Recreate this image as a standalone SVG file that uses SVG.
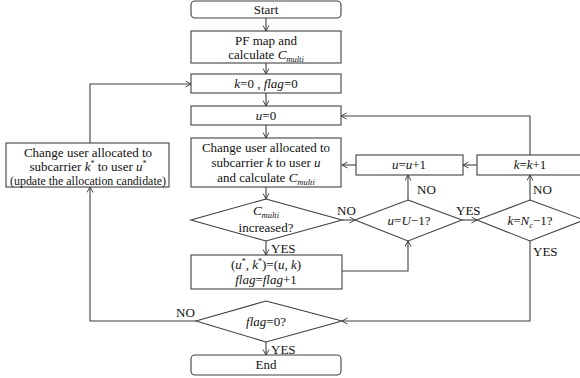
<svg xmlns="http://www.w3.org/2000/svg" width="580" height="378" viewBox="0 0 580 378" font-family="'Liberation Serif', 'Times New Roman', serif" font-size="13">
<defs>
<marker id="ah" markerWidth="8" markerHeight="8" refX="6" refY="3.5" orient="auto" markerUnits="userSpaceOnUse">
<path d="M0.5,0.5 L6,3.5 L0.5,6.5" fill="none" stroke="#333" stroke-width="0.9"/>
</marker>
<style>
.b{fill:#fff;stroke:#404040;stroke-width:1.1}
.l{fill:none;stroke:#404040;stroke-width:1.1;marker-end:url(#ah)}
text{fill:#111}
.c{text-anchor:middle}
.i{font-style:italic}
.s{font-size:8.5px;font-style:italic}
</style>
</defs>
<g id="connectors">
<path class="l" d="M266,18 V31"/>
<path class="l" d="M266,63 V74"/>
<path class="l" d="M266,93 V106"/>
<path class="l" d="M266,125 V138"/>
<path class="l" d="M266,187 V199"/>
<path class="l" d="M266,241 V255"/>
<path class="l" d="M266,342 V355"/>
<path class="l" d="M342,220 H355"/>
<path class="l" d="M462,220 H477"/>
<path class="l" d="M408,200 V175"/>
<path class="l" d="M530,200 V175"/>
<path class="l" d="M477,165 H463"/>
<path class="l" d="M356,165 H342"/>
<path class="l" d="M530,155 V116 H341"/>
<path class="l" d="M342,271 H408 V241"/>
<path class="l" d="M530,241 V321 H342"/>
<path class="l" d="M196,321 H90 V187"/>
<path class="l" d="M90,143 V84 H191"/>
</g>
<g id="start"><rect class="b" x="191" y="1" width="150" height="17" rx="4"/><text class="c" x="266" y="14">Start</text></g>
<g id="pf"><rect class="b" x="191" y="31" width="150" height="32"/><text class="c" x="266" y="45">PF map and</text><text class="c" x="266" y="59">calculate <tspan class="i">C</tspan><tspan class="s" dy="3">multi</tspan></text></g>
<g id="init"><rect class="b" x="191" y="74" width="150" height="19"/><text class="c" x="266" y="88"><tspan class="i">k</tspan>=0 , <tspan class="i">flag</tspan>=0</text></g>
<g id="u0"><rect class="b" x="191" y="106" width="150" height="19"/><text class="c" x="266" y="120"><tspan class="i">u</tspan>=0</text></g>
<g id="change"><rect class="b" x="191" y="138" width="150" height="49"/><text class="c" x="266" y="152">Change user allocated to</text><text class="c" x="266" y="167">subcarrier <tspan class="i">k</tspan> to user <tspan class="i">u</tspan></text><text class="c" x="266" y="182">and calculate <tspan class="i">C</tspan><tspan class="s" dy="3">multi</tspan></text></g>
<g id="inc"><polygon class="b" points="266,199 342,220 266,241 191,220"/><text class="c" x="266" y="215"><tspan class="i">C</tspan><tspan class="s" dy="3">multi</tspan></text><text class="c" x="266" y="232">increased?</text></g>
<g id="save"><rect class="b" x="191" y="255" width="151" height="34"/><text class="c" x="266" y="269">(<tspan class="i">u</tspan><tspan font-size="8" dy="-5">*</tspan><tspan dy="5">, </tspan><tspan class="i">k</tspan><tspan font-size="8" dy="-5">*</tspan><tspan dy="5">)=(</tspan><tspan class="i">u</tspan>, <tspan class="i">k</tspan>)</text><text class="c" x="266" y="284"><tspan class="i">flag</tspan>=<tspan class="i">flag</tspan>+1</text></g>
<g id="flag"><polygon class="b" points="266,301 342,321 266,342 196,321"/><text class="c" x="266" y="326"><tspan class="i">flag</tspan>=0?</text></g>
<g id="end"><rect class="b" x="191" y="355" width="150" height="20" rx="4"/><text class="c" x="266" y="369">End</text></g>
<g id="update"><rect class="b" x="6" y="143" width="163" height="44"/><text class="c" x="88" y="157">Change user allocated to</text><text class="c" x="88" y="171">subcarrier <tspan class="i">k</tspan><tspan font-size="8" dy="-5">*</tspan><tspan dy="5"> to user </tspan><tspan class="i">u</tspan><tspan font-size="8" dy="-5">*</tspan></text><text class="c" x="88" y="185" textLength="156" lengthAdjust="spacingAndGlyphs">(update the allocation candidate)</text></g>
<g id="uinc"><rect class="b" x="356" y="155" width="107" height="20"/><text class="c" x="409" y="169"><tspan class="i">u</tspan>=<tspan class="i">u</tspan>+1</text></g>
<g id="kinc"><rect class="b" x="477" y="155" width="110" height="20"/><text class="c" x="530" y="169"><tspan class="i">k</tspan>=<tspan class="i">k</tspan>+1</text></g>
<g id="ulast"><polygon class="b" points="408,200 462,220 408,241 355,220"/><text class="c" x="409" y="225"><tspan class="i">u</tspan>=<tspan class="i">U</tspan>−1?</text></g>
<g id="klast"><polygon class="b" points="530,200 584,220 530,241 477,220"/><text class="c" x="530" y="225"><tspan class="i">k</tspan>=<tspan class="i">N</tspan><tspan class="s" dy="3">c</tspan><tspan dy="-3">−1?</tspan></text></g>
<g id="labels">
<text x="337" y="215">NO</text>
<text x="271" y="253">YES</text>
<text x="456" y="215">YES</text>
<text x="417" y="194">NO</text>
<text x="533" y="194">NO</text>
<text x="533" y="256">YES</text>
<text x="176" y="317">NO</text>
<text x="271" y="354">YES</text>
</g>
</svg>
